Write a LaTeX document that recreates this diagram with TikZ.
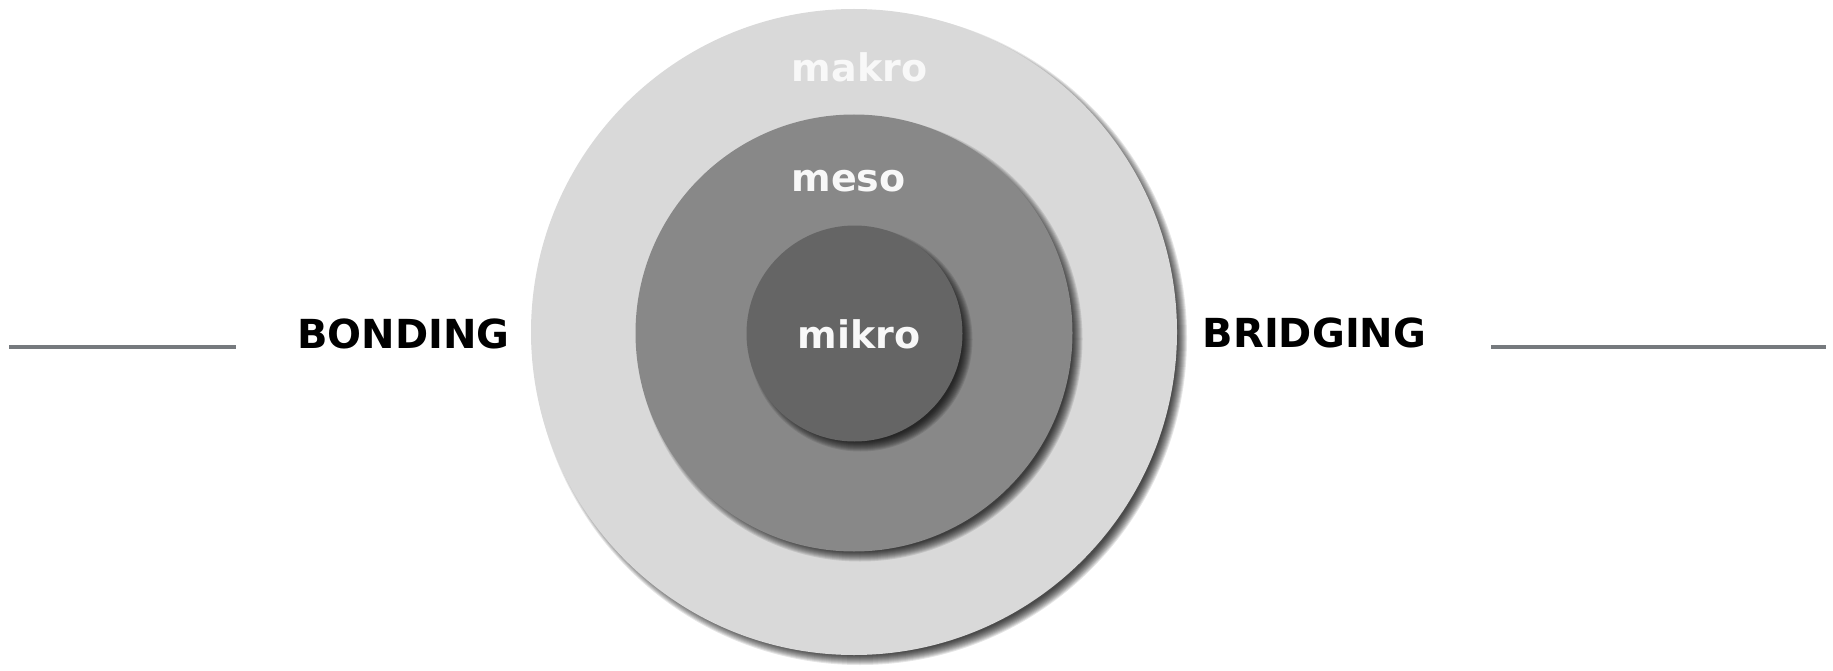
\documentclass[tikz,border=0pt]{standalone}
\usepackage{fontspec}
\setmainfont{DejaVu Sans}
\definecolor{makrogray}{RGB}{217,217,217}
\definecolor{mesogray}{RGB}{136,136,136}
\definecolor{mikrogray}{RGB}{101,101,101}
\definecolor{linegray}{RGB}{118,122,126}
\definecolor{labelwhite}{RGB}{248,248,248}
\newcommand\softshadow[3]{%
  \foreach \k in {0,...,10}{%
    \fill[black, opacity=0.1] (#1+6,#2+6) circle[radius={(#3+4-\k)*1pt}];
  }%
}
\begin{document}
\begin{tikzpicture}[x=1pt,y=-1pt,
  lbl/.style={font=\bfseries\fontsize{38}{40}\selectfont, text=labelwhite, inner sep=0pt, anchor=base},
  side/.style={font=\bfseries\fontsize{40}{42}\selectfont, text=black, inner sep=0pt, anchor=base},
  rule/.style={draw=linegray, line width=4pt},
  ring/.style={circle, inner sep=0pt, draw=none}]
\useasboundingbox (0,0) rectangle (1833,671);
\fill[white] (0,0) rectangle (1833,671);
% makro
\softshadow{854}{332}{323}
\node[ring, fill=makrogray, minimum size=646pt] (makro) at (854,332) {};
% meso
\softshadow{854}{333}{218.5}
\node[ring, fill=mesogray, minimum size=437pt] (meso) at (854,333) {};
% mikro
\softshadow{854.5}{333.5}{108}
\node[ring, fill=mikrogray, minimum size=216pt] (mikro) at (854.5,333.5) {};
% labels
\node[lbl] (tmakro) at (859.5,82) {makro};
\node[lbl] (tmeso) at (848.5,192) {meso};
\node[lbl] (tmikro) at (859,348) {mikro};
\node[side] (bonding) at (403.5,348) {BONDING};
\node[side] (bridging) at (1314.5,347) {BRIDGING};
% lines
\coordinate (l1) at (9,347);
\coordinate (l2) at (236,347);
\coordinate (r1) at (1491,347);
\coordinate (r2) at (1826,347);
\draw[rule] (l1) -- (l2);
\draw[rule] (r1) -- (r2);
\end{tikzpicture}
\end{document}
